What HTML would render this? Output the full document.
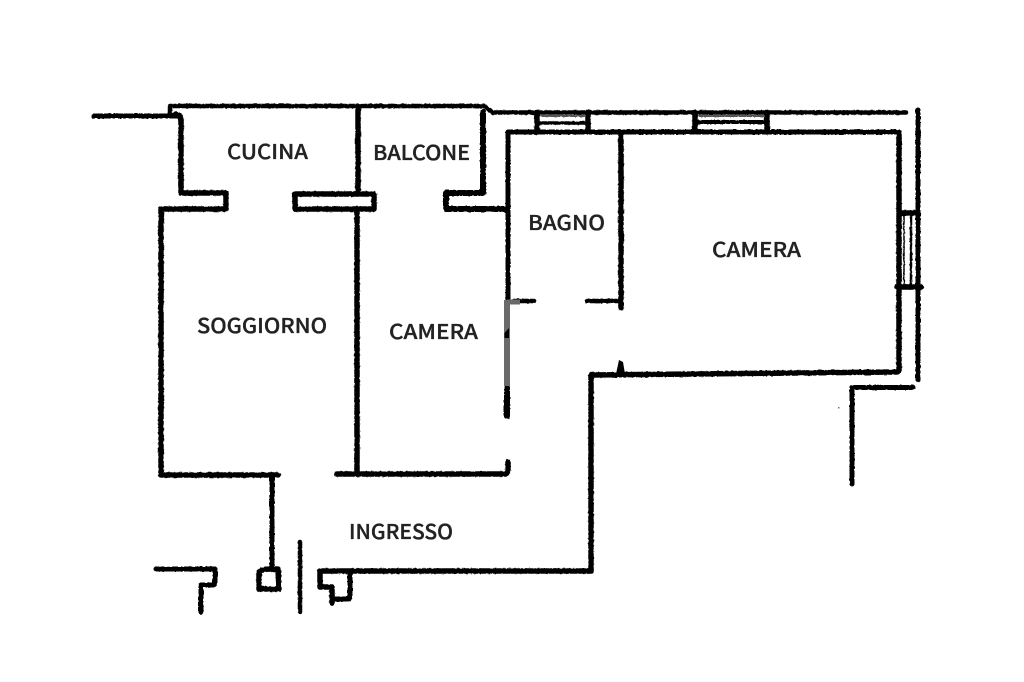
<!DOCTYPE html>
<html lang="it"><head><meta charset="utf-8"><title>Planimetria</title>
<style>html,body{margin:0;padding:0;background:#fff}svg{display:block}
text{font-family:"Noto Sans CJK SC","Liberation Sans",sans-serif;font-size:20.500px;font-weight:500;fill:#222;stroke:#222;stroke-width:.35px}</style></head>
<body>
<svg width="1024" height="682" viewBox="0 0 1024 682" xmlns="http://www.w3.org/2000/svg">
<defs><filter id="r" x="0" y="0" width="100%" height="100%" filterUnits="userSpaceOnUse" primitiveUnits="userSpaceOnUse">
<feTurbulence type="fractalNoise" baseFrequency="0.35" numOctaves="2" seed="4" result="n"/>
<feDisplacementMap in="SourceGraphic" in2="n" scale="2" xChannelSelector="R" yChannelSelector="G"/>
<feGaussianBlur stdDeviation="0.35"/>
</filter></defs>
<rect width="1024" height="682" fill="#fff"/>
<g filter="url(#r)" fill="none" stroke="#000" stroke-width="4.5" stroke-linejoin="round" stroke-linecap="round">
<path d="M94 116H178" stroke-width="5"/>
<path d="M170 113V106H484L493 112.500H906" stroke-width="4.500"/>
<path d="M176 114Q181 115 181 122V193H226V209H161V475H278" stroke-width="5.500"/>
<path d="M358 106V193" stroke-width="5.500"/>
<path d="M295 194H374V209H295Z" stroke-width="5.500"/>
<path d="M357 209V474" stroke-width="5.500"/>
<path d="M337 474H504Q508 474 508 470V462" stroke-width="5.500"/>
<path d="M483 112V193H446V209H506" stroke-width="6"/>
<path d="M896 132H508V300" stroke-width="5"/>
<path d="M507 387V416" stroke-width="6"/>
<path d="M507 331V339" stroke-width="5"/>
<path d="M514 301H534" stroke-width="4.500"/>
<path d="M587 301H620" stroke-width="4.500"/>
<path d="M621 134V308" stroke-width="5.500"/>
<path d="M899 132V370Q899 372 896 372L591 375V570Q591 571 588 571" stroke-width="5.500"/>
<path d="M918 110V380" stroke-width="5"/>
<path d="M852 484V387.500H913" stroke-width="5"/>
<path d="M272 476V566" stroke-width="5"/>
<path d="M259 572Q262 569 272 569H278L279 589H259Z" stroke-width="5.500"/>
<path d="M300 542V612" stroke-width="4.500"/>
<path d="M156 569H215V583Q215 585 212 585H201V612" stroke-width="5"/>
<path d="M591 571H320V587H332V603" stroke-width="5.500"/>
<path d="M350 572V597Q350 599 347 599H333" stroke-width="5"/>
<path d="M537 112V132M588 112V132M695 112V132M767 112V132" stroke-width="5.500"/>
<path d="M540 123H586" stroke-width="3.500"/>
<path d="M698 122H765" stroke-width="4"/>
<path d="M541 116H584M699 116H764" stroke="#555" stroke-width="2"/>
<path d="M899 213H918M897 287H921" stroke-width="5.500"/>
<path d="M904 215V285" stroke-width="1.500"/>
<path d="M911 215V285" stroke-width="2.500"/>
</g>
<path d="M507 300V386" fill="none" stroke="#6a6a6a" stroke-width="6"/>
<path d="M507 302H520" fill="none" stroke="#6a6a6a" stroke-width="5"/>
<path d="M504.500 338L504.500 333L509 328V338Z" fill="#000"/>
<path d="M616 374L619 360L623 362L625 374Z" fill="#000"/>
<rect x="838" y="407" width="1.500" height="1.500" fill="#777"/>
<text x="227" y="159" textLength="81" lengthAdjust="spacingAndGlyphs">CUCINA</text>
<text x="373" y="160" textLength="97" lengthAdjust="spacingAndGlyphs">BALCONE</text>
<text x="528" y="230" textLength="77" lengthAdjust="spacingAndGlyphs">BAGNO</text>
<text x="712" y="257" textLength="89" lengthAdjust="spacingAndGlyphs">CAMERA</text>
<text x="197" y="333" textLength="130" lengthAdjust="spacingAndGlyphs">SOGGIORNO</text>
<text x="389" y="339" textLength="89" lengthAdjust="spacingAndGlyphs">CAMERA</text>
<text x="349" y="539" textLength="104" lengthAdjust="spacingAndGlyphs">INGRESSO</text>
</svg>
</body></html>
